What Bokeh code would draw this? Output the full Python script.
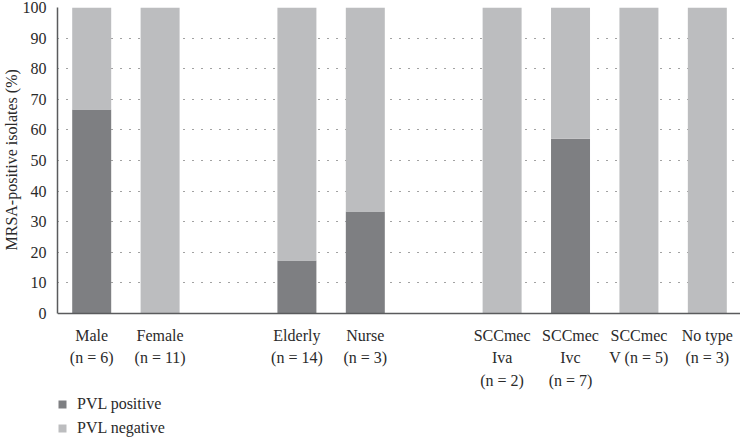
import numpy as np
from bokeh.plotting import figure
from bokeh.models import (ColumnDataSource, Range1d, FixedTicker, Legend, LegendItem, Span, Title)
from bokeh.core.properties import value
from bokeh.embed import file_html
from bokeh.resources import INLINE

# ---- data ----
groups = [
    ["Male\n(n = 6)", "Female\n(n = 11)"],
    ["Elderly\n(n = 14)", "Nurse\n(n = 3)"],
    ["SCCmec\nIva\n(n = 2)", "SCCmec\nIvc\n(n = 7)", "SCCmec\nV (n = 5)", "No type\n(n = 3)"],
]
pvl_positive = [66.7, 0.0, 17.3, 33.3, 0.0, 57.1, 0.0, 0.0]
pvl_negative = [33.3, 100.0, 82.7, 66.7, 100.0, 42.9, 100.0, 100.0]
y_ticks = [0, 10, 20, 30, 40, 50, 60, 70, 80, 90, 100]
series_names = ["PVL positive", "PVL negative"]
y_title = "MRSA-positive isolates (%)"

# ---- layout of categories (one empty slot between groups) ----
labels, xpos = [], []
slot = 0
for gi, g in enumerate(groups):
    for lab in g:
        labels.append(lab)
        xpos.append(slot)
        slot += 1
    slot += 1

FONT = "Liberation Serif"
DARK = "#7e7f82"
LIGHT = "#bcbdbf"
AXIS = "#5a5b5d"
TXT = "#2a2a2a"

W, H = 740, 437
LEFT = 56
TOP, BOTTOM_0 = 7, 313          # pixel rows of 100 % and 0 %
ppu = (BOTTOM_0 - TOP) / 100.0  # pixels per percent
ymin = -(H - BOTTOM_0) / ppu    # frame extends below 0 to host labels + legend

src = ColumnDataSource(dict(x=xpos, pos=pvl_positive, neg=pvl_negative, label=labels,
                            zero=[0] * len(xpos)))

p = figure(width=W, height=H, output_backend="svg", toolbar_location=None,
           x_range=Range1d(-0.5, 9.485), y_range=Range1d(ymin, 100),
           min_border_left=LEFT, min_border_right=0, min_border_top=TOP, min_border_bottom=0)
p.outline_line_color = None
p.background_fill_color = None
p.border_fill_color = None

rs = p.vbar_stack(["pos", "neg"], x="x", width=0.57, source=src,
                  color=[DARK, LIGHT], line_color=None)

# category labels under the bars
p.text(x="x", y="zero", text="label", source=src, text_align="center",
       text_baseline="top", y_offset=13, text_font=value(FONT),
       text_font_size="16px", text_color=TXT, text_line_height=1.35)

# grid
p.xgrid.visible = False
p.ygrid.ticker = FixedTicker(ticks=y_ticks[1:])
p.ygrid.grid_line_color = "#444444"
p.ygrid.grid_line_dash = "1 8"
p.ygrid.grid_line_width = 1

# x axis line at 0
p.xaxis.visible = False
p.add_layout(Span(location=0, dimension="width", line_color=AXIS, line_width=1.5))

# y axis
ya = p.yaxis[0]
ya.ticker = FixedTicker(ticks=y_ticks)
ya.bounds = (0, 100)
ya.major_label_text_font = FONT
ya.major_label_text_font_size = "16px"
ya.major_label_text_color = TXT
ya.major_label_standoff = 5
ya.major_tick_line_color = None
ya.minor_tick_line_color = None
ya.axis_line_color = AXIS
ya.axis_line_width = 1.5

# y axis title, centred on the 0-100 part of the frame
p.add_layout(Title(text=y_title, align="left", offset=H - BOTTOM_0 + 63, standoff=0,
                   text_font=FONT, text_font_size="16px", text_font_style="normal",
                   text_color=TXT), "left")

legend = Legend(items=[LegendItem(label=series_names[i], renderers=[rs[i]]) for i in range(2)],
                location=(0, 0), orientation="vertical",
                padding=0, margin=0, spacing=5,
                glyph_width=10, glyph_height=10, label_height=19,
                label_standoff=10, border_line_color=None, background_fill_alpha=0,
                label_text_font=FONT, label_text_font_size="16px", label_text_color=TXT)
p.add_layout(legend, "center")

open("out.html", "w").write(file_html(p, INLINE))
